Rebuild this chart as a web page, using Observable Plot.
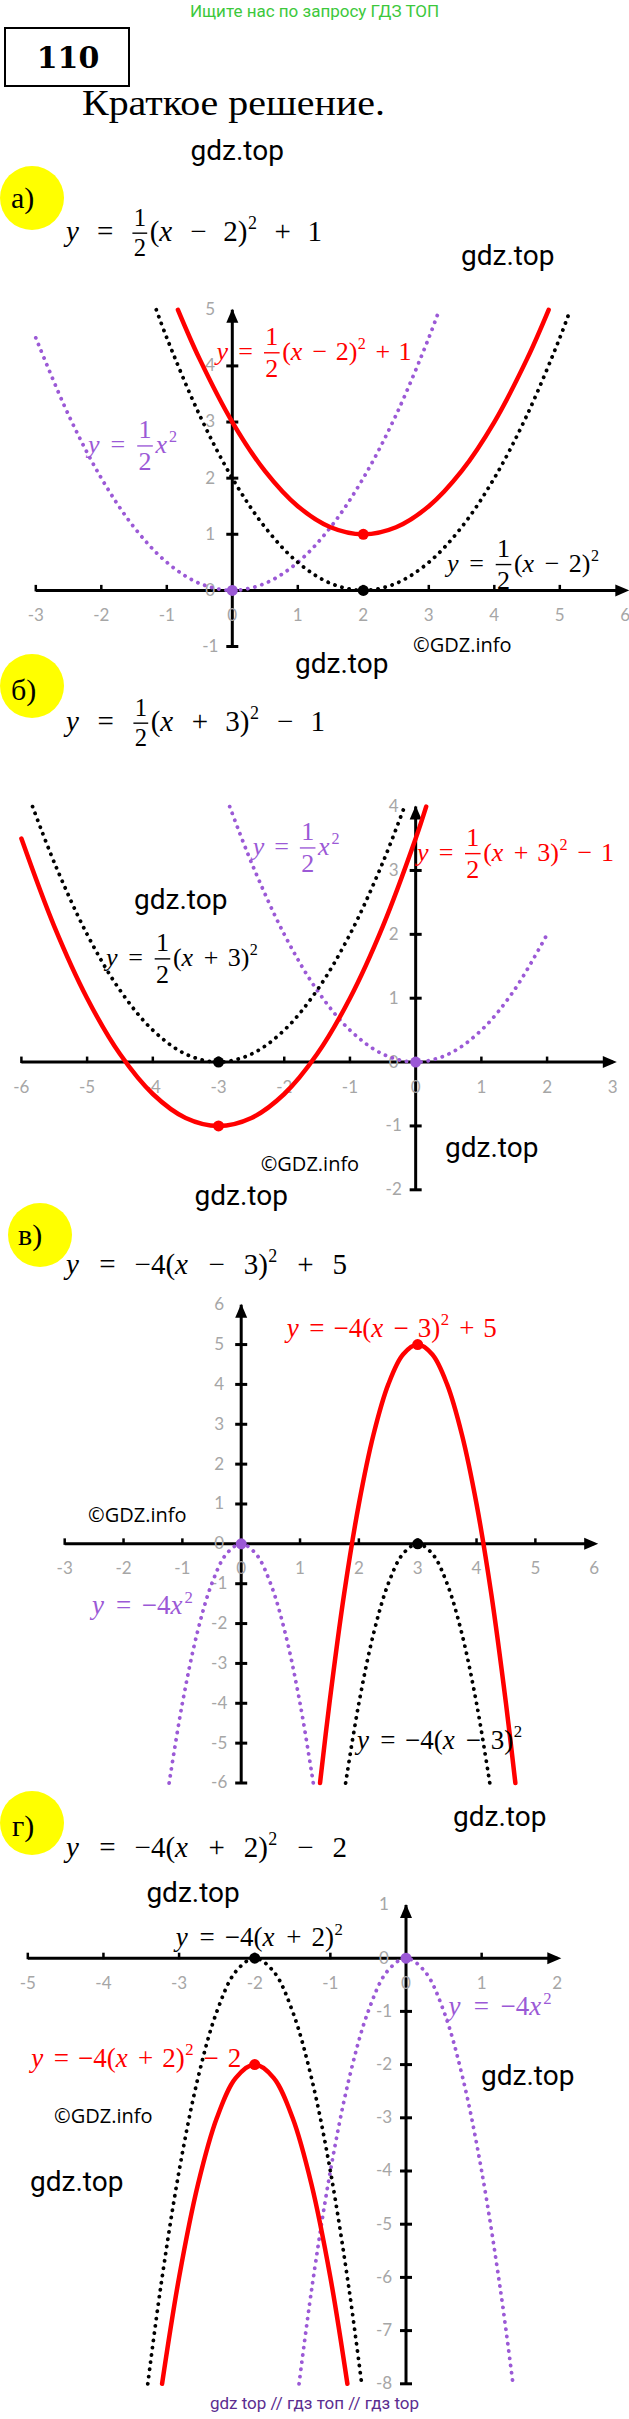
<!DOCTYPE html>
<html><head><meta charset="utf-8">
<script src="https://cdn.jsdelivr.net/npm/d3@7"></script>
<script src="https://cdn.jsdelivr.net/npm/@observablehq/plot@0.6"></script>
<style>
html,body{margin:0;padding:0;background:#fff;}
#page{position:relative;width:629px;height:2419px;overflow:hidden;background:#fff;}
</style></head><body><div id="page"></div>
<script>
// ---------- DATA ----------
// Chart а: y = 1/2(x-2)^2 + 1
const a_xTicks = [-3,-2,-1,0,1,2,3,4,5,6];
const a_yTicks = [-1,0,1,2,3,4,5];
const a_red = [[-0.83,5],[-0.5,4.125],[0,3],[0.5,2.125],[1,1.5],[1.5,1.125],[2,1],[2.5,1.125],[3,1.5],[3.5,2.125],[4,3],[4.5,4.125],[4.83,5]];
const a_black = [[-1.16,5],[-1,4.5],[-0.5,3.125],[0,2],[0.5,1.125],[1,0.5],[1.5,0.125],[2,0],[2.5,0.125],[3,0.5],[3.5,1.125],[4,2],[4.5,3.125],[5,4.5],[5.16,5]];
const a_purple = [[-3,4.5],[-2.5,3.125],[-2,2],[-1.5,1.125],[-1,0.5],[-0.5,0.125],[0,0],[0.5,0.125],[1,0.5],[1.5,1.125],[2,2],[2.5,3.125],[3,4.5],[3.16,5]];
const a_vertexRed = [2,1], a_vertexBlack = [2,0], a_vertexPurple = [0,0];

// Chart б: y = 1/2(x+3)^2 - 1
const b_xTicks = [-6,-5,-4,-3,-2,-1,0,1,2,3];
const b_yTicks = [-2,-1,0,1,2,3,4];
const b_red = [[-6,3.5],[-5.5,2.125],[-5,1],[-4.5,0.125],[-4,-0.5],[-3.5,-0.875],[-3,-1],[-2.5,-0.875],[-2,-0.5],[-1.5,0.125],[-1,1],[-0.5,2.125],[0,3.5],[0.16,4]];
const b_black = [[-5.83,4],[-5.5,3.125],[-5,2],[-4.5,1.125],[-4,0.5],[-3.5,0.125],[-3,0],[-2.5,0.125],[-2,0.5],[-1.5,1.125],[-1,2],[-0.5,3.125],[-0.17,4]];
const b_purple = [[-2.83,4],[-2.5,3.125],[-2,2],[-1.5,1.125],[-1,0.5],[-0.5,0.125],[0,0],[0.5,0.125],[1,0.5],[1.5,1.125],[2,2]];
const b_vertexRed = [-3,-1], b_vertexBlack = [-3,0], b_vertexPurple = [0,0];

// Chart в: y = -4(x-3)^2 + 5
const c_xTicks = [-3,-2,-1,0,1,2,3,4,5,6];
const c_yTicks = [-6,-5,-4,-3,-2,-1,0,1,2,3,4,5,6];
const c_red = [[1.34,-6],[1.5,-4],[1.75,-1.25],[2,1],[2.25,2.75],[2.5,4],[2.75,4.75],[3,5],[3.25,4.75],[3.5,4],[3.75,2.75],[4,1],[4.25,-1.25],[4.5,-4],[4.66,-6]];
const c_black = [[1.775,-6],[2,-4],[2.25,-2.25],[2.5,-1],[2.75,-0.25],[3,0],[3.25,-0.25],[3.5,-1],[3.75,-2.25],[4,-4],[4.225,-6]];
const c_purple = [[-1.225,-6],[-1,-4],[-0.75,-2.25],[-0.5,-1],[-0.25,-0.25],[0,0],[0.25,-0.25],[0.5,-1],[0.75,-2.25],[1,-4],[1.225,-6]];
const c_vertexRed = [3,5], c_vertexBlack = [3,0], c_vertexPurple = [0,0];

// Chart г: y = -4(x+2)^2 - 2
const d_xTicks = [-5,-4,-3,-2,-1,0,1,2];
const d_yTicks = [-8,-7,-6,-5,-4,-3,-2,-1,0,1];
const d_red = [[-3.225,-8],[-3,-6],[-2.75,-4.25],[-2.5,-3],[-2.25,-2.25],[-2,-2],[-1.75,-2.25],[-1.5,-3],[-1.25,-4.25],[-1,-6],[-0.775,-8]];
const d_black = [[-3.414,-8],[-3.25,-6.25],[-3,-4],[-2.75,-2.25],[-2.5,-1],[-2.25,-0.25],[-2,0],[-1.75,-0.25],[-1.5,-1],[-1.25,-2.25],[-1,-4],[-0.75,-6.25],[-0.586,-8]];
const d_purple = [[-1.414,-8],[-1.25,-6.25],[-1,-4],[-0.75,-2.25],[-0.5,-1],[-0.25,-0.25],[0,0],[0.25,-0.25],[0.5,-1],[0.75,-2.25],[1,-4],[1.25,-6.25],[1.414,-8]];
const d_vertexRed = [-2,-2], d_vertexBlack = [-2,0], d_vertexPurple = [0,0];

// texts
const headerText = "Ищите нас по запросу ГДЗ ТОП";
const numberText = "110";
const titleText = "Краткое решение.";
const footerText = "gdz top // гдз топ // гдз top";
const watermark = "gdz.top";
const copyright = "©GDZ.info";

// ---------- STYLE ----------
const RED = "#ff0000", PURPLE = "#9b59d6", GRAY = "#a6a6a6";
const MATH = "'Liberation Serif', 'DejaVu Serif', serif";
const page = d3.select("#page");

const symTickUp = {draw(c){ c.moveTo(0,1); c.lineTo(0,-5.5); }};
const symTickH = {draw(c){ c.moveTo(-6,0); c.lineTo(6,0); }};
const symArrowR = {draw(c){ c.moveTo(4,0); c.lineTo(-10,-6); c.lineTo(-10,6); c.closePath(); }};
const symArrowU = {draw(c){ c.moveTo(0,-1); c.lineTo(-6,13); c.lineTo(6,13); c.closePath(); }};

function buildChart(cfg) {
  const [xmin, xmax] = [cfg.xTicks[0], cfg.xTicks[cfg.xTicks.length-1]];
  const [ymin, ymax] = [cfg.yTicks[0], cfg.yTicks[cfg.yTicks.length-1]];
  const X = d => d[0], Y = d => d[1];
  const dotted = {strokeWidth: 3.8, strokeDasharray: "0.1 7.2", strokeLinecap: "round", curve: "catmull-rom", x: X, y: Y};
  const p = Plot.plot({
    width: 629, height: cfg.H,
    marginTop: cfg.m[0], marginRight: cfg.m[1], marginBottom: cfg.m[2], marginLeft: cfg.m[3],
    x: {domain: [xmin, xmax], axis: null},
    y: {domain: [ymin, ymax], axis: null},
    style: {position: "absolute", left: "0px", top: cfg.T + "px", overflow: "visible", background: "none"},
    marks: [
      Plot.link([{x1: xmin, x2: xmax, y1: 0, y2: 0}], {x1: "x1", x2: "x2", y1: "y1", y2: "y2", stroke: "black", strokeWidth: 3}),
      Plot.link([{x1: 0, x2: 0, y1: ymin, y2: ymax}], {x1: "x1", x2: "x2", y1: "y1", y2: "y2", stroke: "black", strokeWidth: 3}),
      Plot.dot(cfg.xTicks.filter(v => v !== 0 && v !== xmax), {x: d => d, y: () => 0, symbol: symTickUp, fill: "none", stroke: "black", strokeWidth: 2.5}),
      Plot.dot(cfg.yTicks.filter(v => v !== 0 && v !== ymax), {x: () => 0, y: d => d, symbol: symTickH, fill: "none", stroke: "black", strokeWidth: 3}),
      Plot.dot([xmax], {x: d => d, y: () => 0, symbol: symArrowR, fill: "black", stroke: "none"}),
      Plot.dot([ymax], {x: () => 0, y: d => d, symbol: symArrowU, fill: "black", stroke: "none"}),
      Plot.text(cfg.xTicks, {x: d => d, y: () => 0, dy: 25, text: d => String(d), fill: GRAY, fontSize: 17, fontFamily: "Lato, 'Open Sans', sans-serif"}),
      Plot.text(cfg.yTicks, {x: () => 0, y: d => d, dx: -22, text: d => String(d), fill: GRAY, fontSize: 17, fontFamily: "Lato, 'Open Sans', sans-serif"}),
      Plot.line(cfg.purple, {...dotted, stroke: PURPLE}),
      Plot.line(cfg.black, {...dotted, stroke: "black"}),
      Plot.line(cfg.red, {x: X, y: Y, curve: "catmull-rom", stroke: RED, strokeWidth: 4.5}),
      Plot.dot([cfg.vBlack], {x: X, y: Y, r: 5.5, fill: "black"}),
      Plot.dot([cfg.vPurple], {x: X, y: Y, r: 5.5, fill: PURPLE}),
      Plot.dot([cfg.vRed], {x: X, y: Y, r: 5.5, fill: RED})
    ]
  });
  page.node().appendChild(p);
  return {T: cfg.T, sx: p.scale("x"), sy: p.scale("y")};
}

const chA = buildChart({T: 290, H: 400, m: [19.3, 4.2, 44, 35.3], xTicks: a_xTicks, yTicks: a_yTicks, red: a_red, black: a_black, purple: a_purple, vRed: a_vertexRed, vBlack: a_vertexBlack, vPurple: a_vertexPurple});
const chB = buildChart({T: 790, H: 420, m: [16.1, 16.7, 20.7, 20.9], xTicks: b_xTicks, yTicks: b_yTicks, red: b_red, black: b_black, purple: b_purple, vRed: b_vertexRed, vBlack: b_vertexBlack, vPurple: b_vertexPurple});
const chC = buildChart({T: 1290, H: 510, m: [14.2, 35.3, 17.5, 64.2], xTicks: c_xTicks, yTicks: c_yTicks, red: c_red, black: c_black, purple: c_purple, vRed: c_vertexRed, vBlack: c_vertexBlack, vPurple: c_vertexPurple});
const chD = buildChart({T: 1890, H: 510, m: [14.5, 72.2, 16.7, 27.3], xTicks: d_xTicks, yTicks: d_yTicks, red: d_red, black: d_black, purple: d_purple, vRed: d_vertexRed, vBlack: d_vertexBlack, vPurple: d_vertexPurple});

// ---------- OVERLAY ----------
const ov = page.append("svg").attr("width", 629).attr("height", 2419)
  .style("position", "absolute").style("left", "0px").style("top", "0px").style("overflow", "visible");

function drawMath(x0, base, src, o) {
  const size = o.size, ff = size * (o.frac || 1), fs = size * 0.62;
  const g = ov.append("g").attr("fill", o.color).attr("font-family", MATH);
  const toks = [];
  for (let i = 0; i < src.length; i++) {
    const c = src[i];
    if (c === " ") toks.push({k: "gap"});
    else if (c === "{") { const j = src.indexOf("}", i); const [n, d] = src.slice(i + 1, j).split("/"); toks.push({k: "frac", n, d}); i = j; }
    else if (c === "^") { toks.push({k: "sup", t: src[i + 1]}); i++; }
    else toks.push({k: "ch", t: c});
  }
  let nat = 0, nGap = 0;
  for (const t of toks) {
    if (t.k === "gap") { nGap++; continue; }
    if (t.k === "ch") {
      t.el = g.append("text").attr("font-size", size).attr("font-style", /[a-z]/.test(t.t) ? "italic" : null).text(t.t);
      t.w = t.el.node().getComputedTextLength() + (/[a-z]/.test(t.t) ? 1.5 : 0);
    } else if (t.k === "sup") {
      t.el = g.append("text").attr("font-size", fs).text(t.t);
      t.w = t.el.node().getComputedTextLength() + 1.5;
    } else {
      t.ne = g.append("text").attr("font-size", ff).attr("text-anchor", "middle").text(t.n);
      t.de = g.append("text").attr("font-size", ff).attr("text-anchor", "middle").text(t.d);
      t.w = Math.max(t.ne.node().getComputedTextLength(), t.de.node().getComputedTextLength()) + 0.3 * ff;
      t.bar = g.append("line").attr("stroke", o.color).attr("stroke-width", 1.4);
    }
    nat += t.w;
  }
  const gap = o.width ? Math.max(1, (o.width - nat) / Math.max(1, nGap)) : size * 0.25;
  let x = x0;
  for (const t of toks) {
    if (t.k === "gap") x += gap;
    else if (t.k === "ch") { t.el.attr("x", x).attr("y", base); x += t.w; }
    else if (t.k === "sup") { t.el.attr("x", x + 0.5).attr("y", base - 0.42 * size); x += t.w; }
    else {
      const cx = x + t.w / 2, by = base - 0.27 * size;
      t.ne.attr("x", cx).attr("y", by - 0.3 * ff);
      t.de.attr("x", cx).attr("y", by + 0.28 * ff + 0.66 * ff);
      t.bar.attr("x1", x + 0.1 * ff).attr("x2", x + t.w - 0.1 * ff).attr("y1", by).attr("y2", by);
      x += t.w;
    }
  }
}

function text(x, y, s, o) {
  const t = ov.append("text").attr("x", x).attr("y", y).text(s)
    .attr("font-family", o.font).attr("font-size", o.size).attr("fill", o.color || "black");
  if (o.anchor) t.attr("text-anchor", o.anchor);
  if (o.weight) t.attr("font-weight", o.weight);
  if (o.len) t.attr("textLength", o.len).attr("lengthAdjust", o.adjust || "spacing");
  return t;
}

// header
text(314.5, 16.5, headerText, {font: "Roboto", size: 17, color: "#3cc83c", anchor: "middle"});
ov.append("rect").attr("x", 5).attr("y", 28).attr("width", 124).attr("height", 58).attr("fill", "none").attr("stroke", "black").attr("stroke-width", 2);
text(68, 68, numberText, {font: "'DejaVu Serif'", size: 30, weight: "bold", anchor: "middle"});
text(82, 115, titleText, {font: "'Liberation Serif'", size: 36, len: 303, adjust: "spacingAndGlyphs"});

// part markers
const parts = [["а)", 32, 198, 11, 208], ["б)", 32, 686, 11, 700], ["в)", 40, 1235, 18, 1245], ["г)", 32, 1823, 12, 1836]];
for (const [s, cx, cy, tx, ty] of parts) {
  ov.append("circle").attr("cx", cx).attr("cy", cy).attr("r", 32).attr("fill", "#ffff00");
  text(tx, ty, s, {font: "'Liberation Serif'", size: 30});
}

// headings
drawMath(66, 241, "y = {1/2}(x − 2)^2 + 1", {size: 29, frac: 0.85, color: "black", width: 256});
drawMath(66, 731, "y = {1/2}(x + 3)^2 − 1", {size: 29, frac: 0.85, color: "black", width: 259});
drawMath(66, 1274, "y = −4(x − 3)^2 + 5", {size: 29, color: "black", width: 281});
drawMath(66, 1857, "y = −4(x + 2)^2 − 2", {size: 29, color: "black", width: 281});

// chart labels, anchored in data coordinates
function label(ch, x, y, src, o) {
  drawMath(ch.sx.apply(x), ch.T + ch.sy.apply(y), src, o);
}
label(chA, -0.232, 4.10, "y = {1/2}(x − 2)^2 + 1", {size: 26, color: RED, width: 195});
label(chA, -2.195, 2.44, "y = {1/2}x^2", {size: 26, color: PURPLE, width: 90});
label(chA, 3.285, 0.326, "y = {1/2}(x − 2)^2", {size: 26, color: "black", width: 153});
label(chB, -2.473, 3.235, "y = {1/2}x^2", {size: 26, color: PURPLE, width: 88});
label(chB, 0.027, 3.146, "y = {1/2}(x + 3)^2 − 1", {size: 26, color: RED, width: 197});
label(chB, -4.706, 1.498, "y = {1/2}(x + 3)^2", {size: 26, color: "black", width: 153});
label(chC, 0.784, 5.186, "y = −4(x − 3)^2 + 5", {size: 27, color: RED, width: 210});
label(chC, -2.529, -1.771, "y = −4x^2", {size: 27, color: PURPLE, width: 102});
label(chC, 1.978, -5.151, "y = −4(x − 3)^2", {size: 27, color: "black", width: 166});
label(chD, -3.036, 0.22, "y = −4(x + 2)^2", {size: 27, color: "black", width: 168});
label(chD, -4.947, -2.049, "y = −4(x + 2)^2 − 2", {size: 27, color: RED, width: 210});
label(chD, 0.569, -1.077, "y = −4x^2", {size: 27, color: PURPLE, width: 104});

// watermarks
const gdzPos = [[190.5,159.5],[461,264.5],[295,672.5],[134,909],[445,1157],[194.5,1205],[453,1825.5],[146.4,1901.5],[481,2084.5],[30,2191]];
for (const [x, y] of gdzPos) text(x, y, watermark, {font: "Roboto", size: 28});
const cpPos = [[413,652],[260.7,1171],[88,1522],[54,2123]];
for (const [x, y] of cpPos) text(x, y, copyright, {font: "'Open Sans'", size: 20});

text(314.5, 2409, footerText, {font: "Roboto", size: 17, color: "#5b2d90", anchor: "middle"});
</script></body></html>
